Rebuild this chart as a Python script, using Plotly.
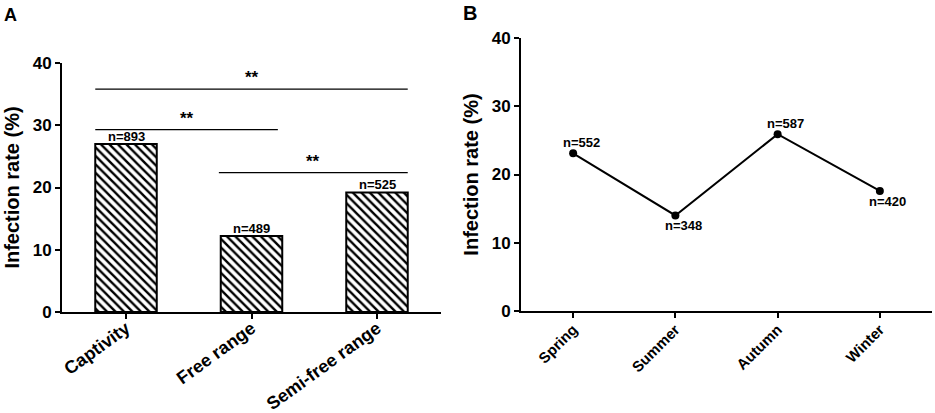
import plotly.graph_objects as go

# Panel A: housing type
housing = ['Captivity', 'Free range', 'Semi-free range']
housing_rate = [27.0, 12.2, 19.2]
housing_n = ['n=893', 'n=489', 'n=525']

# significance brackets: (start, end, height) in category units / percent
brackets = [(-0.245, 2.245, 35.8), (-0.245, 1.21, 29.3), (0.74, 2.245, 22.4)]
bracket_label = '**'

# Panel B: season
seasons = ['Spring', 'Summer', 'Autumn', 'Winter']
season_rate = [23.1, 14.0, 25.9, 17.6]
season_n = ['n=552', 'n=348', 'n=587', 'n=420']
season_n_pos = ['top', 'bottom', 'top', 'bottom']

W, H = 935, 413
FONT = 'Arial, Liberation Sans, sans-serif'

fig = go.Figure()

fig.add_trace(go.Bar(
    x=housing, y=housing_rate, width=0.49,
    marker=dict(color='white', line=dict(color='black', width=2),
                pattern=dict(shape='\\', fgcolor='black', bgcolor='white', fgopacity=1,
                             size=6, solidity=0.4)),
    xaxis='x', yaxis='y', showlegend=False, hoverinfo='skip',
))

fig.add_trace(go.Scatter(
    x=seasons, y=season_rate, mode='lines+markers',
    line=dict(color='black', width=2), marker=dict(color='black', size=8),
    xaxis='x2', yaxis='y2', showlegend=False,
))

annotations = []
shapes = []

for cat, val, lab in zip(housing, housing_rate, housing_n):
    annotations.append(dict(x=cat, y=val, xref='x', yref='y', text=lab, showarrow=False,
                            yanchor='bottom', yshift=-2,
                            font=dict(family=FONT, size=13, color='black', weight='bold')))

for x0, x1, h in brackets:
    shapes.append(dict(type='line', xref='x', yref='y', x0=x0, x1=x1, y0=h, y1=h,
                       line=dict(color='black', width=1.3)))
    annotations.append(dict(x=(x0 + x1) / 2, y=h, xref='x', yref='y', text=bracket_label,
                            showarrow=False, yanchor='bottom', yshift=0,
                            font=dict(family=FONT, size=17, color='black', weight='bold')))

for cat, val, lab, pos in zip(seasons, season_rate, season_n, season_n_pos):
    annotations.append(dict(x=cat, y=val, xref='x2', yref='y2', text=lab, showarrow=False,
                            yanchor='bottom' if pos == 'top' else 'top',
                            yshift=1 if pos == 'top' else -1, xshift=8,
                            font=dict(family=FONT, size=13, color='black', weight='bold')))

annotations.append(dict(x=2 / W, y=1 - 3 / H, xref='paper', yref='paper', text='A', showarrow=False,
                        xanchor='left', yanchor='top',
                        font=dict(family=FONT, size=18, color='black', weight='bold')))
annotations.append(dict(x=461 / W, y=1 - 0 / H, xref='paper', yref='paper', text='B', showarrow=False,
                        xanchor='left', yanchor='top',
                        font=dict(family=FONT, size=20, color='black', weight='bold')))

axis_common = dict(showline=True, linecolor='black', linewidth=2, ticks='outside',
                   tickcolor='black', tickwidth=2, ticklen=5, showgrid=False, zeroline=False,
                   automargin=False)

fig.update_layout(
    width=W, height=H,
    margin=dict(l=0, r=0, t=0, b=0),
    paper_bgcolor='white', plot_bgcolor='white',
    font=dict(family=FONT, color='black'),
    xaxis=dict(domain=[62 / W, 441 / W], range=[-0.51, 2.51], tickangle=-36, ticklabelstandoff=-8,
               tickfont=dict(family=FONT, size=18, weight='bold'), anchor='y', **axis_common),
    yaxis=dict(domain=[1 - 312 / H, 1 - 63 / H], range=[0, 40], tickvals=[0, 10, 20, 30, 40],
               tickfont=dict(family=FONT, size=17, weight='bold'), anchor='x',
               title=dict(text='Infection rate (%)', font=dict(family=FONT, size=20, weight='bold'), standoff=8),
               **axis_common),
    xaxis2=dict(domain=[521 / W, 932 / W], range=[-0.51, 3.51], tickangle=-45, ticklabelstandoff=-3,
                tickfont=dict(family=FONT, size=15, weight='bold'), anchor='y2', **axis_common),
    yaxis2=dict(domain=[1 - 311 / H, 1 - 38 / H], range=[0, 40], tickvals=[0, 10, 20, 30, 40],
                tickfont=dict(family=FONT, size=17, weight='bold'), anchor='x2',
                title=dict(text='Infection rate (%)', font=dict(family=FONT, size=20, weight='bold'), standoff=8),
                **axis_common),
    annotations=annotations,
    shapes=shapes,
)

# drop the default page margin so the figure sits at the window's corner
fig.write_html('out.html', config={'displayModeBar': False},
               post_script="document.body.style.margin='0';")
